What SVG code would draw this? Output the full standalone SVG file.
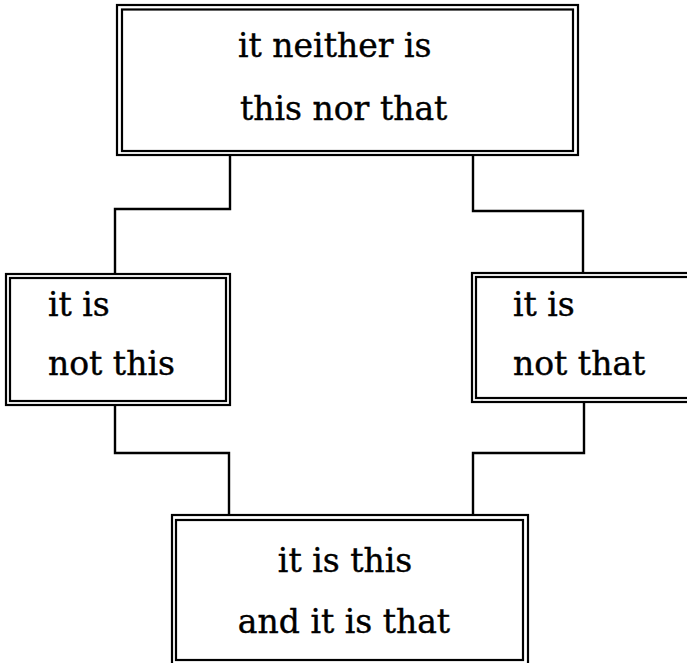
<svg xmlns="http://www.w3.org/2000/svg" width="687" height="663" viewBox="0 0 687 663">
<style>
.b{fill:none;stroke:#000;stroke-width:2.2}
.c{fill:none;stroke:#000;stroke-width:2.4}
.t{font-family:"DejaVu Serif","Liberation Serif",serif;font-size:33px;fill:#000;stroke:#000;stroke-width:0.4}
</style>
<rect width="687" height="663" fill="#fff"/>
<g id="connectors">
<path class="c" d="M230,155 V209 H115 V274"/>
<path class="c" d="M473,155 V211 H583 V273"/>
<path class="c" d="M115,405 V453 H229 V515"/>
<path class="c" d="M584,402 V453 H473 V515"/>
</g>
<g id="top">
<rect class="b" x="117" y="5" width="461" height="150"/>
<rect class="b" x="122" y="9.5" width="451" height="141.5"/>
<text class="t" x="238" y="57">it neither is</text>
<text class="t" x="240" y="120">this nor that</text>
</g>
<g id="left">
<rect class="b" x="6" y="274" width="224" height="131"/>
<rect class="b" x="10" y="278" width="216" height="123"/>
<text class="t" x="48" y="316">it is</text>
<text class="t" x="48" y="375">not this</text>
</g>
<g id="right">
<rect class="b" x="472" y="273" width="230" height="129"/>
<rect class="b" x="476" y="277" width="230" height="121"/>
<text class="t" x="513" y="316">it is</text>
<text class="t" x="513" y="375">not that</text>
</g>
<g id="bottom">
<rect class="b" x="172" y="515" width="356" height="160"/>
<rect class="b" x="176" y="520" width="347" height="140"/>
<text class="t" x="345" y="572" text-anchor="middle">it is this</text>
<text class="t" x="344" y="633" text-anchor="middle">and it is that</text>
</g>
</svg>
